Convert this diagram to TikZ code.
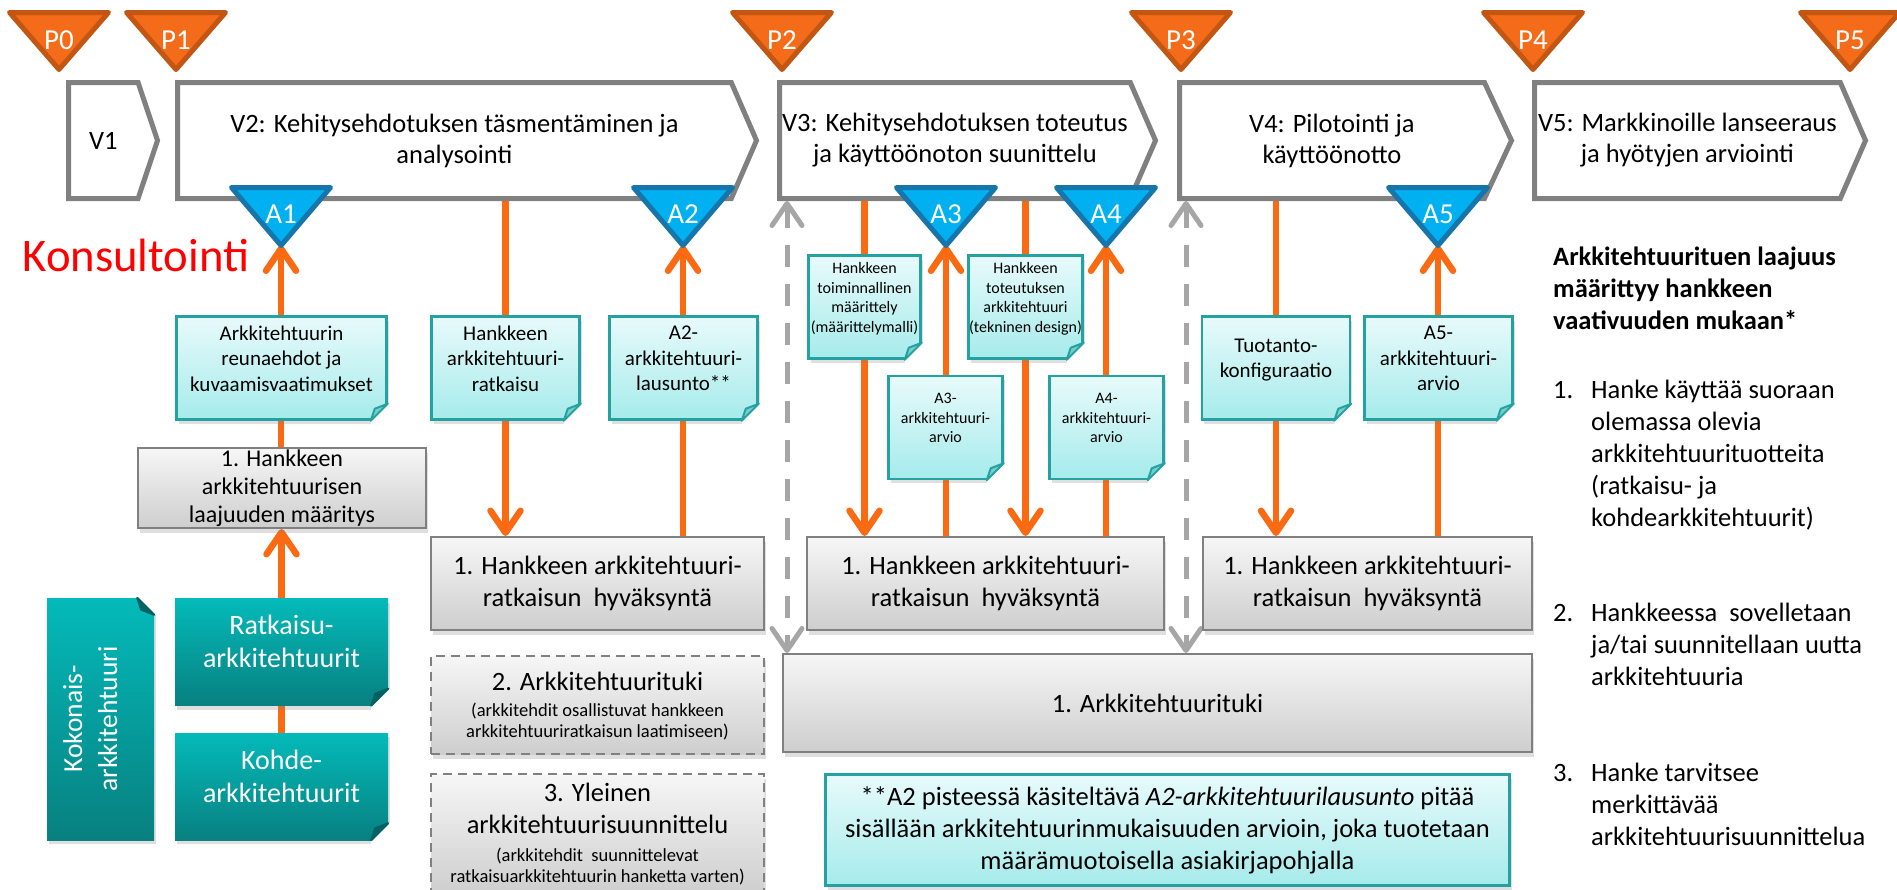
\documentclass[tikz,border=0pt]{standalone}
\usepackage{fontspec}
\setmainfont{Carlito}
\usetikzlibrary{arrows.meta, shapes.symbols, shadows, backgrounds}

\definecolor{orng}{RGB}{250,106,18}
\definecolor{pfill}{RGB}{244,108,26}
\definecolor{pdraw}{RGB}{194,86,18}
\definecolor{afill}{RGB}{0,176,240}
\definecolor{adraw}{RGB}{22,118,172}
\definecolor{vgray}{RGB}{128,128,128}
\definecolor{dgray}{RGB}{166,166,166}
\definecolor{notetop}{RGB}{232,250,251}
\definecolor{notebot}{RGB}{166,235,235}
\definecolor{notedraw}{RGB}{36,162,162}
\definecolor{notefold}{RGB}{120,205,205}
\definecolor{tealtop}{RGB}{4,186,186}
\definecolor{tealbot}{RGB}{8,128,128}
\definecolor{tealfold}{RGB}{0,98,98}
\definecolor{boxtop}{RGB}{246,246,246}
\definecolor{boxbot}{RGB}{206,206,206}
\definecolor{boxdraw}{RGB}{128,128,128}
\definecolor{konsred}{RGB}{255,0,0}

\newcommand{\subfont}{\fontsize{18.5}{22}\selectfont}
\newcommand{\dogear}[3]{%
  \fill[white] ([xshift=-17pt,yshift=-5pt]#1.south east) -- ([xshift=5pt,yshift=-5pt]#1.south east)
    -- ([xshift=5pt,yshift=17pt]#1.south east) -- ([yshift=17pt]#1.south east)
    -- ([xshift=-17pt]#1.south east) -- cycle;
  \filldraw[fill=#2, draw=#3, line width=2pt, line join=round] ([xshift=-17pt]#1.south east)
    -- ([xshift=-13pt,yshift=12pt]#1.south east) -- ([yshift=17pt]#1.south east) -- cycle;}

\begin{document}
\begin{tikzpicture}[x=1pt, y=-1pt, >={Straight Barb[length=22pt,width=30pt,round]},
    vbox/.style={signal, signal to=east, draw=vgray, line width=5pt, fill=white,
      minimum height=116pt, inner sep=0pt, anchor=west, align=center,
      font=\fontsize{26.5}{31}\selectfont},
    pmark/.style={fill=pfill, draw=pdraw, line width=5pt, line join=round},
    amark/.style={fill=afill, draw=adraw, line width=5pt, line join=round},
    mlabel/.style={text=white, inner sep=0pt, font=\fontsize{29}{29}\selectfont},
    cyanbox/.style={draw=notedraw, line width=2.5pt, top color=notetop, bottom color=notebot,
      inner sep=0pt, align=center,
      drop shadow={shadow xshift=2pt, shadow yshift=-4pt, opacity=0.25}},
    note/.style={cyanbox, minimum width=148pt, minimum height=103pt, text depth=19pt,
      font=\fontsize{21}{25.5}\selectfont},
    smallnote/.style={note, minimum width=114pt, font=\fontsize{16}{19.5}\selectfont},
    graybox/.style={draw=boxdraw, line width=2pt, top color=boxtop, bottom color=boxbot,
      minimum height=93pt, inner sep=0pt, align=center, font=\fontsize{26.5}{32}\selectfont,
      drop shadow={shadow xshift=2pt, shadow yshift=-5pt, opacity=0.25}},
    dashbox/.style={graybox, dash pattern=on 9pt off 6pt},
    tealbox/.style={top color=tealtop, bottom color=tealbot, text=white,
      minimum width=213pt, minimum height=107pt, inner sep=0pt, align=center, text depth=21pt,
      font=\fontsize{28}{33}\selectfont,
      drop shadow={shadow xshift=2pt, shadow yshift=-4pt, opacity=0.25}},
    oline/.style={draw=orng, line width=6.5pt},
    garrow/.style={draw=dgray, line width=5pt, dash pattern=on 22pt off 17pt, <->},
    rtext/.style={anchor=north west, align=left, inner sep=0pt, font=\fontsize{26.5}{32}\selectfont}
  ]
    \useasboundingbox (0,0) rectangle (1897,889);

    %define phases
    \node[vbox, minimum width=89pt, signal pointer angle=143] (V1) at (66,140.5) {V1};
    \node[vbox, minimum width=579pt, signal pointer angle=133] (V2) at (175,140.5) {V2: Kehitysehdotuksen täsmentäminen ja\\analysointi};
    \node[vbox, minimum width=376pt, signal pointer angle=133] (V3) at (777,140.5) {V3: Kehitysehdotuksen toteutus\\ja käyttöönoton suunittelu};
    \node[vbox, minimum width=332pt, signal pointer angle=130] (V4) at (1177,140.5) {V4: Pilotointi ja\\käyttöönotto};
    \node[vbox, minimum width=331pt, signal pointer angle=133] (V5) at (1532,140.5) {V5: Markkinoille lanseeraus\\ja hyötyjen arviointi};

    %define milestones
    \filldraw[pmark] (9.5,12.5) -- (108.5,12.5) -- (59,69.5) -- cycle;
    \node[mlabel] (p0) at (59,40) {P0};
    \filldraw[pmark] (126.5,12.5) -- (225.5,12.5) -- (176,69.5) -- cycle;
    \node[mlabel] (p1) at (176,40) {P1};
    \filldraw[pmark] (732.5,12.5) -- (831.5,12.5) -- (782,69.5) -- cycle;
    \node[mlabel] (p2) at (782,40) {P2};
    \filldraw[pmark] (1131.5,12.5) -- (1230.5,12.5) -- (1181,69.5) -- cycle;
    \node[mlabel] (p3) at (1181,40) {P3};
    \filldraw[pmark] (1483.5,12.5) -- (1582.5,12.5) -- (1533,69.5) -- cycle;
    \node[mlabel] (p4) at (1533,40) {P4};
    \filldraw[pmark] (1800.5,12.5) -- (1899.5,12.5) -- (1850,69.5) -- cycle;
    \node[mlabel] (p5) at (1850,40) {P5};

    \filldraw[amark] (231.5,187.5) -- (330.5,187.5) -- (281,245.5) coordinate (t1) -- cycle;
    \node[mlabel] (a1) at (281,214) {A1};
    \filldraw[amark] (633.5,187.5) -- (732.5,187.5) -- (683,245.5) coordinate (t2) -- cycle;
    \node[mlabel] (a2) at (683,214) {A2};
    \filldraw[amark] (896.5,187.5) -- (995.5,187.5) -- (946,245.5) coordinate (t3) -- cycle;
    \node[mlabel] (a3) at (946,214) {A3};
    \filldraw[amark] (1056.5,187.5) -- (1155.5,187.5) -- (1106,245.5) coordinate (t4) -- cycle;
    \node[mlabel] (a4) at (1106,214) {A4};
    \filldraw[amark] (1388.5,187.5) -- (1487.5,187.5) -- (1438,245.5) coordinate (t5) -- cycle;
    \node[mlabel] (a5) at (1438,214) {A5};

    \node[text=konsred, font=\fontsize{46.7}{50}\selectfont] (konsultointi) at (136,255) {Konsultointi};

    %define documents
    \node[note, minimum width=210pt] (n1) at (281.5,368) {Arkkitehtuurin\\reunaehdot ja\\kuvaamisvaatimukset};
    \node[note] (n2) at (505.5,368) {Hankkeen\\arkkitehtuuri-\\ratkaisu};
    \node[note] (n3) at (683.5,368) {A2-\\arkkitehtuuri-\\lausunto**};
    \node[smallnote, minimum width=112pt] (n4) at (864.5,307) {Hankkeen\\toiminnallinen\\määrittely\\(määrittelymalli)};
    \node[smallnote] (n5) at (1025.5,307) {Hankkeen\\toteutuksen\\arkkitehtuuri\\(tekninen design)};
    \node[smallnote] (n6) at (945.5,427.5) {A3-\\arkkitehtuuri-\\arvio};
    \node[smallnote] (n7) at (1106.5,427.5) {A4-\\arkkitehtuuri-\\arvio};
    \node[note] (n8) at (1276,368) {Tuotanto-\\konfiguraatio};
    \node[note] (n9) at (1438.5,368) {A5-\\arkkitehtuuri-\\arvio};
    \node[cyanbox, minimum width=684pt, minimum height=111pt, font=\fontsize{26.5}{32}\selectfont] (n10) at (1167.5,830)
      {**A2 pisteessä käsiteltävä \textit{A2-arkkitehtuurilausunto} pitää\\sisällään arkkitehtuurinmukaisuuden arvioin, joka tuotetaan\\määrämuotoisella asiakirjapohjalla};

    %define tasks
    \node[graybox, minimum width=288pt, minimum height=80pt, font=\fontsize{24}{28}\selectfont] (g1) at (282,488) {1. Hankkeen\\arkkitehtuurisen\\laajuuden määritys};
    \node[graybox, minimum width=333pt] (b2) at (597.5,583.5) {1. Hankkeen arkkitehtuuri-\\ratkaisun\ \ hyväksyntä};
    \node[graybox, minimum width=357pt] (b3) at (985.5,583.5) {1. Hankkeen arkkitehtuuri-\\ratkaisun\ \ hyväksyntä};
    \node[graybox, minimum width=329pt] (b4) at (1367.5,583.5) {1. Hankkeen arkkitehtuuri-\\ratkaisun\ \ hyväksyntä};
    \node[graybox, minimum width=749pt, minimum height=98pt] (tuki) at (1157.5,703) {1. Arkkitehtuurituki};
    \node[dashbox, minimum width=333pt, minimum height=98pt, text depth=0pt] (d2) at (597.5,705)
      {2. Arkkitehtuurituki\\[-6pt]{\subfont (arkkitehdit osallistuvat hankkeen}\\[-11pt]{\subfont arkkitehtuuriratkaisun laatimiseen)}};
    \node[dashbox, minimum width=333pt, minimum height=120pt] (d3) at (597.5,834)
      {3. Yleinen\\arkkitehtuurisuunnittelu\\[-4pt]{\subfont (arkkitehdit\ \ suunnittelevat}\\[-11pt]{\subfont ratkaisuarkkitehtuurin hanketta varten)}};

    %define architectures
    \node[tealbox] (rat) at (281.5,652) {Ratkaisu-\\arkkitehtuurit};
    \node[tealbox] (koh) at (281.5,786.5) {Kohde-\\arkkitehtuurit};
    \node[tealbox, rotate=90, minimum width=242pt, minimum height=107pt, font=\fontsize{27.5}{35}\selectfont] (kok) at (100.5,719) {Kokonais-\\arkkitehtuuri};

    %folded corners
    \dogear{n1}{notefold}{notedraw}
    \dogear{n2}{notefold}{notedraw}
    \dogear{n3}{notefold}{notedraw}
    \dogear{n4}{notefold}{notedraw}
    \dogear{n5}{notefold}{notedraw}
    \dogear{n6}{notefold}{notedraw}
    \dogear{n7}{notefold}{notedraw}
    \dogear{n8}{notefold}{notedraw}
    \dogear{n9}{notefold}{notedraw}
    \dogear{rat}{tealfold}{tealfold}
    \dogear{koh}{tealfold}{tealfold}
    \fill[white] ([xshift=-17pt,yshift=5pt]kok.south east) -- ([xshift=5pt,yshift=5pt]kok.south east)
      -- ([xshift=5pt,yshift=-17pt]kok.south east) -- ([yshift=-17pt]kok.south east)
      -- ([xshift=-17pt]kok.south east) -- cycle;
    \filldraw[fill=tealfold, draw=tealfold, line width=2pt, line join=round] ([xshift=-17pt]kok.south east)
      -- ([xshift=-13pt,yshift=-12pt]kok.south east) -- ([yshift=-17pt]kok.south east) -- cycle;

    %scope of support
    \node[rtext] (laajuus) at (1553,247) {\textbf{Arkkitehtuurituen laajuus}\\
      \textbf{määrittyy hankkeen}\\
      \textbf{vaativuuden mukaan*}\\[37pt]
      \makebox[38pt][l]{1.}Hanke käyttää suoraan\\
      \hspace*{38pt}olemassa olevia\\
      \hspace*{38pt}arkkitehtuurituotteita\\
      \hspace*{38pt}(ratkaisu- ja\\
      \hspace*{38pt}kohdearkkitehtuurit)\\[63pt]
      \makebox[38pt][l]{2.}Hankkeessa\ \ sovelletaan\\
      \hspace*{38pt}ja/tai suunnitellaan uutta\\
      \hspace*{38pt}arkkitehtuuria\\[64pt]
      \makebox[38pt][l]{3.}Hanke tarvitsee\\
      \hspace*{38pt}merkittävää\\
      \hspace*{38pt}arkkitehtuurisuunnittelua};

    \coordinate (g3) at (787,201);
    \coordinate (g4) at (1186,201);

    %define the links
    \begin{scope}[on background layer]
      \fill[white] (0,0) rectangle (1897,889);
      \draw[oline,->] (rat.north) -- (rat.north |- g1.south);
      \draw[oline] (rat.south) -- (koh.north);
      \draw[oline,->] (t1 |- g1.north) -- (t1);
      \draw[oline,->] (V2.south -| n2) -- (n2 |- b2.north);
      \draw[oline,->] (t2 |- b2.north) -- (t2);
      \draw[oline,->] (V3.south -| n4) -- (n4 |- b3.north);
      \draw[oline,->] (t3 |- b3.north) -- (t3);
      \draw[oline,->] (V3.south -| n5) -- (n5 |- b3.north);
      \draw[oline,->] (t4 |- b3.north) -- (t4);
      \draw[oline,->] (V4.south -| n8) -- (n8 |- b4.north);
      \draw[oline,->] (t5 |- b4.north) -- (t5);
      \draw[garrow] (g3) -- (g3 |- tuki.north);
      \draw[garrow] (g4) -- (g4 |- tuki.north);
    \end{scope}
\end{tikzpicture}
\end{document}
